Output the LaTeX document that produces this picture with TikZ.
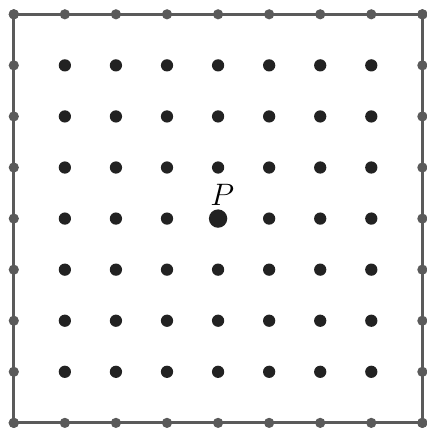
\documentclass[tikz,border=0pt]{standalone}
\usepackage{amsmath,amssymb}
\usetikzlibrary{positioning}
\definecolor{latFrame}{HTML}{5A5A5A}
\definecolor{latDot}{HTML}{222222}

\begin{document}
\begin{tikzpicture}[
    line width=1.6pt,
    every node/.style={font=\LARGE},
    edgedot/.style={circle,fill=latFrame,inner sep=0pt,minimum size=0.2cm},
    innerdot/.style={circle,fill=latDot,inner sep=0pt,minimum size=0.24cm},
    bigdot/.style={circle,fill=latDot,inner sep=0pt,minimum size=0.36cm},
  ]
  % Grid: 8 steps of 1cm, the middle point is (4,4).
  \def\n{8}
  \useasboundingbox (-0.27,-0.12) rectangle (8.08,8.28);

  % The frame
  \draw[latFrame] (0,0) rectangle (\n,\n);

  % Dots on the frame
  \foreach \i in {0,...,8} {
    \node[edgedot] (b\i) at (\i,0) {};
    \node[edgedot] (t\i) at (\i,\n) {};
    \node[edgedot] (l\i) at (0,\i) {};
    \node[edgedot] (r\i) at (\n,\i) {};
  }

  % Dots inside, all but the middle one
  \foreach \i in {1,...,7}
    \foreach \j in {1,...,7} {
      \ifnum\i=4 \ifnum\j=4 \else
        \node[innerdot] (d\i\j) at (\i,\j) {};
      \fi \else
        \node[innerdot] (d\i\j) at (\i,\j) {};
      \fi
    }

  % The point P
  \node[bigdot] (p) at (4,4) {};
  \node[above=-0.1cm of p,xshift=0.08cm] (plabel) {$P$};
\end{tikzpicture}
\end{document}
